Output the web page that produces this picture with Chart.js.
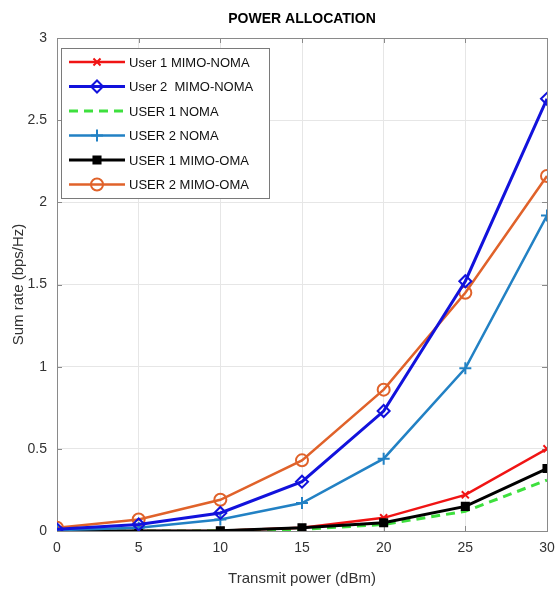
<!DOCTYPE html>
<html>
<head>
<meta charset="utf-8">
<script src="https://cdn.jsdelivr.net/npm/chart.js@4/dist/chart.umd.min.js"></script>
<style>
  html, body { margin: 0; padding: 0; background: #fff; }
  #wrap { width: 555px; height: 594px; position: relative; }
</style>
</head>
<body>
<div id="wrap"><canvas id="powerChart"></canvas></div>
<script>
// transmit power (dBm)
const txPower = [0, 5, 10, 15, 20, 25, 30];

// sum rate (bps/Hz) per scheme
const user1MimoNoma = [0.00, 0.00, 0.002, 0.02, 0.08, 0.22, 0.50];
const user2MimoNoma = [0.01, 0.04, 0.11, 0.30, 0.73, 1.52, 2.63];
const user1Noma     = [0.00, 0.00, 0.001, 0.01, 0.04, 0.12, 0.31];
const user2Noma     = [0.005, 0.02, 0.07, 0.17, 0.44, 0.99, 1.92];
const user1MimoOma  = [0.00, 0.00, 0.002, 0.02, 0.05, 0.15, 0.38];
const user2MimoOma  = [0.02, 0.07, 0.19, 0.43, 0.86, 1.45, 2.16];

const seriesLabels = ['User 1 MIMO-NOMA', 'User 2  MIMO-NOMA', 'USER 1 NOMA', 'USER 2 NOMA', 'USER 1 MIMO-OMA', 'USER 2 MIMO-OMA'];
const xTicks = [0, 5, 10, 15, 20, 25, 30];
const yTicks = [0, 0.5, 1, 1.5, 2, 2.5, 3];
const chartTitle = 'POWER ALLOCATION';

const FONT = '"Liberation Sans", Arial, sans-serif';

function toPoints(vals) {
    return vals.map((v, i) => ({ x: txPower[i], y: v }));
}

function makeSet(label, vals, color, style, extra) {
    return Object.assign({
        label: label,
        data: toPoints(vals),
        borderColor: color,
        backgroundColor: '#fff',
        borderWidth: 2.5,
        pointStyle: style,
        pointRadius: 6,
        pointBorderColor: color,
        pointBackgroundColor: 'rgba(255,255,255,0)',
        pointBorderWidth: 2,
        tension: 0
    }, extra || {});
}

const datasets = [
    makeSet(seriesLabels[0], user1MimoNoma, '#f01414', 'crossRot', { order: 2, pointRadius: 5 }),
    makeSet(seriesLabels[1], user2MimoNoma, '#1212dc', 'rectRot', { borderWidth: 3 }),
    makeSet(seriesLabels[2], user1Noma, '#3ee03e', false, { borderDash: [9, 6], pointRadius: 0, borderWidth: 3, order: 3 }),
    makeSet(seriesLabels[3], user2Noma, '#2281c4', 'cross'),
    makeSet(seriesLabels[4], user1MimoOma, '#000000', 'rect', { pointRadius: 5, pointBackgroundColor: '#000', borderWidth: 3, order: 1 }),
    makeSet(seriesLabels[5], user2MimoOma, '#e0622a', 'circle')
];

// box, inward tick marks, title centred over the axes
const axesBox = {
    id: 'axesBox',
    beforeDatasetsDraw(chart) {
        const { ctx, chartArea: a, scales } = chart;
        ctx.save();
        ctx.strokeStyle = '#8a8a8a';
        ctx.lineWidth = 1;
        ctx.strokeRect(a.left + 0.5, a.top + 0.5, a.right - a.left, a.bottom - a.top);
        ctx.beginPath();
        xTicks.forEach(t => {
            const px = Math.round(scales.x.getPixelForValue(t)) + 0.5;
            ctx.moveTo(px, a.bottom); ctx.lineTo(px, a.bottom - 5);
            ctx.moveTo(px, a.top); ctx.lineTo(px, a.top + 5);
        });
        yTicks.forEach(t => {
            const py = Math.round(scales.y.getPixelForValue(t)) + 0.5;
            ctx.moveTo(a.left, py); ctx.lineTo(a.left + 5, py);
            ctx.moveTo(a.right, py); ctx.lineTo(a.right - 5, py);
        });
        ctx.stroke();
        ctx.fillStyle = '#000';
        ctx.font = 'bold 14px ' + FONT;
        ctx.textAlign = 'center';
        ctx.textBaseline = 'middle';
        ctx.fillText(chartTitle, (a.left + a.right) / 2, 19);
        ctx.restore();
    }
};

// legend box inside the plot, top-left
const boxLegend = {
    id: 'boxLegend',
    afterDraw(chart) {
        const { ctx, chartArea: a } = chart;
        const x0 = a.left + 4, y0 = a.top + 10;
        const w = 208, rowH = 24.5, h = rowH * datasets.length + 3;
        ctx.save();
        ctx.fillStyle = '#fff';
        ctx.fillRect(x0, y0, w, h);
        ctx.strokeStyle = '#7a7a7a';
        ctx.lineWidth = 1;
        ctx.strokeRect(x0 + 0.5, y0 + 0.5, w, h);
        chart.data.datasets.forEach((ds, i) => {
            const cy = y0 + 14 + i * rowH;
            ctx.strokeStyle = ds.borderColor;
            ctx.lineWidth = ds.borderWidth;
            ctx.setLineDash(ds.borderDash || []);
            ctx.beginPath();
            ctx.moveTo(x0 + 8, cy);
            ctx.lineTo(x0 + 64, cy);
            ctx.stroke();
            ctx.setLineDash([]);
            if (ds.pointStyle && ds.pointRadius > 0) {
                ctx.fillStyle = ds.pointBackgroundColor;
                ctx.strokeStyle = ds.pointBorderColor;
                ctx.lineWidth = ds.pointBorderWidth;
                Chart.helpers.drawPoint(ctx, {
                    pointStyle: ds.pointStyle,
                    radius: ds.pointRadius,
                    rotation: 0,
                    borderWidth: ds.pointBorderWidth
                }, x0 + 36, cy);
            }
            ctx.fillStyle = '#111';
            ctx.font = '13px ' + FONT;
            ctx.textBaseline = 'middle';
            ctx.fillText(ds.label, x0 + 68, cy + 1);
        });
        ctx.restore();
    }
};

new Chart(document.getElementById('powerChart'), {
    type: 'line',
    data: { datasets: datasets },
    plugins: [axesBox, boxLegend],
    options: {
        responsive: true,
        maintainAspectRatio: false,
        animation: false,
        layout: { padding: { top: 38, right: 7, bottom: 0, left: 0 } },
        plugins: {
            legend: { display: false },
            tooltip: { enabled: false },
            title: { display: false }
        },
        scales: {
            x: {
                type: 'linear',
                min: 0,
                max: 30,
                afterFit(scale) { scale.height = 63; scale.paddingRight = 0; scale.paddingLeft = 0; },
                afterBuildTicks(scale) { scale.ticks = xTicks.map(v => ({ value: v })); },
                grid: { color: '#e6e6e6', drawTicks: false },
                border: { display: false },
                ticks: { color: '#333', padding: 9, font: { family: FONT, size: 14 }, callback: v => String(v) },
                title: {
                    display: true,
                    text: 'Transmit power (dBm)',
                    color: '#333',
                    font: { family: FONT, size: 15 },
                    padding: { top: 0, bottom: 6 }
                }
            },
            y: {
                min: 0,
                max: 3,
                afterFit(scale) { scale.width = 57; },
                afterBuildTicks(scale) { scale.ticks = yTicks.map(v => ({ value: v })); },
                grid: { color: '#e6e6e6', drawTicks: false },
                border: { display: false },
                ticks: { color: '#333', padding: 10, font: { family: FONT, size: 14 }, callback: v => String(v) },
                title: {
                    display: true,
                    text: 'Sum rate (bps/Hz)',
                    color: '#333',
                    font: { family: FONT, size: 15 },
                    padding: { top: 10, bottom: 0 }
                }
            }
        }
    }
});
</script>
</body>
</html>
